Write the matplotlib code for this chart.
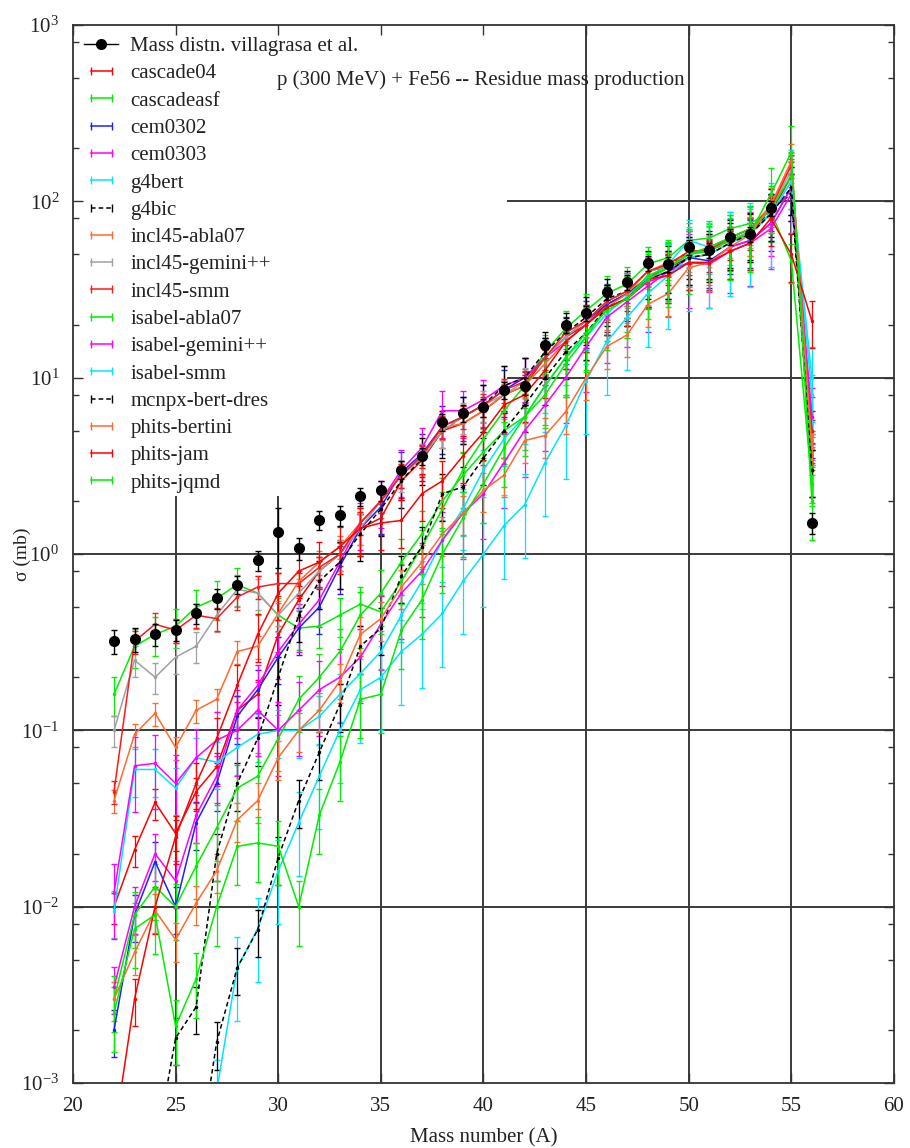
import matplotlib
matplotlib.use("Agg")
import matplotlib.pyplot as plt
from matplotlib.lines import Line2D
from matplotlib.legend_handler import HandlerLine2D
from matplotlib.ticker import FixedLocator, LogFormatterMathtext, NullFormatter, MultipleLocator

plt.rcParams['font.family'] = ['Liberation Serif', 'DejaVu Serif']
plt.rcParams['mathtext.fontset'] = 'stix'

# mass numbers
mass = [22, 23, 24, 25, 26, 27, 28, 29, 30, 31, 32, 33, 34, 35, 36, 37, 38, 39,
        40, 41, 42, 43, 44, 45, 46, 47, 48, 49, 50, 51, 52, 53, 54, 55, 56]

# experimental data (villagrasa et al.), mb
exp_mass = [22, 23, 24, 25, 26, 27, 28, 29, 30, 31, 32, 33, 34, 35, 36, 37, 38, 39,
            40, 41, 42, 43, 44, 45, 46, 47, 48, 49, 50, 51, 52, 53, 54, 56]
exp_val = [0.32, 0.33, 0.35, 0.37, 0.46, 0.56, 0.67, 0.92, 1.33, 1.08, 1.56, 1.66, 2.13, 2.3,
           3.0, 3.6, 5.6, 6.3, 6.8, 8.5, 9.0, 15.3, 19.9, 23.2, 30.6, 34.8, 44.7, 44.0,
           55.0, 53.0, 63.0, 65.0, 92.0, 1.5]
exp_err = [0.05, 0.05, 0.05, 0.05, 0.06, 0.07, 0.08, 0.12, 0.5, 0.15, 0.2, 0.22, 0.25, 0.3,
           0.35, 0.4, 0.6, 0.7, 0.8, 0.9, 1.0, 1.6, 2.0, 2.3, 3.0, 3.5, 4.5, 4.4,
           5.5, 5.3, 6.3, 6.5, 9.0, 0.2]

cascade04 = [0.01, 0.021, 0.039, 0.026, 0.045, 0.062, 0.13, 0.16, 0.35, 0.55, 0.8, 1.0, 1.4, 1.6,
             2.6, 3.4, 5.0, 5.5, 6.5, 8, 9, 13, 17, 20, 26, 30, 37, 42, 48, 50, 58, 66, 85, 140, 4]
cascadeasf = [0.16, 0.3, 0.35, 0.39, 0.5, 0.56, 0.67, 0.6, 0.45, 0.38, 0.39, 0.45, 0.52, 0.47,
              0.7, 1.1, 1.8, 3.0, 4.5, 6.5, 9, 14, 19, 24, 30, 34, 44, 48, 60, 62, 70, 75, 88, 46, 2.5]
cem0302 = [0.002, 0.009, 0.018, 0.01, 0.03, 0.05, 0.12, 0.17, 0.26, 0.38, 0.5, 0.85, 1.4, 1.85,
           2.9, 3.7, 5.3, 6, 7, 8.5, 10, 13, 17, 21, 26, 30, 36, 40, 48, 46, 55, 60, 75, 120, 5]
cem0303 = [0.0035, 0.01, 0.02, 0.014, 0.033, 0.055, 0.13, 0.18, 0.28, 0.4, 0.55, 0.9, 1.5, 2.0,
           3.0, 4.0, 6.5, 6.5, 7.5, 9, 10, 13, 16, 20, 25, 28, 35, 38, 45, 44, 52, 58, 70, 110, 6]
g4bert = [0.0095, 0.06, 0.06, 0.047, 0.07, 0.066, 0.08, 0.095, 0.1, 0.1, 0.12, 0.16, 0.21, 0.28,
          0.45, 0.7, 1.2, 1.8, 3, 4.5, 6, 9, 13, 17, 23, 29, 37, 44, 60, 55, 62, 70, 85, 130, 8]
g4bic = [0.0004, 0.0004, 0.0004, 0.0018, 0.0027, 0.02, 0.05, 0.09, 0.2, 0.45, 0.7, 0.9, 1.3, 1.8,
         2.6, 3.5, 5, 6, 7, 9, 10, 14, 18, 22, 28, 31, 40, 43, 52, 52, 60, 66, 90, 110, 3]
incl45_abla07 = [0.04, 0.095, 0.125, 0.08, 0.13, 0.15, 0.28, 0.3, 0.46, 0.7, 0.9, 1.1, 1.5, 2.0,
                 2.8, 3.6, 5.2, 5.5, 6.5, 8, 9, 12, 16, 20, 25, 30, 40, 45, 50, 55, 62, 70, 95, 165, 4]
incl45_gemini = [0.1, 0.25, 0.2, 0.26, 0.3, 0.45, 0.63, 0.6, 0.45, 0.6, 0.8, 1.0, 1.4, 2.0,
                 2.8, 3.5, 5, 6, 7, 8, 9.5, 13, 17, 21, 27, 31, 40, 43, 50, 53, 60, 68, 90, 150, 4]
incl45_smm = [0.045, 0.32, 0.4, 0.37, 0.45, 0.43, 0.57, 0.65, 0.68, 0.68, 0.84, 1.0, 1.5, 2.0,
              2.8, 3.6, 5.3, 6, 7, 8.5, 9.5, 13, 18, 21, 27, 31, 40, 44, 52, 53, 62, 70, 92, 160, 5]
isabel_abla07 = [0.003, 0.009, 0.013, 0.01, 0.017, 0.028, 0.047, 0.055, 0.09, 0.15, 0.2, 0.28, 0.45, 0.6,
                 0.9, 1.3, 2.0, 2.8, 3.8, 5, 6, 8, 12, 17, 25, 28, 38, 42, 50, 55, 62, 70, 90, 140, 3]
isabel_gemini = [0.012, 0.063, 0.065, 0.05, 0.07, 0.088, 0.1, 0.13, 0.1, 0.13, 0.17, 0.2, 0.26, 0.4,
                 0.6, 0.8, 1.2, 1.7, 2.2, 3.3, 5, 7, 10, 15, 22, 27, 33, 40, 45, 45, 55, 60, 75, 120, 6]
isabel_smm = [0.0004, 0.0004, 0.0004, 0.0004, 0.0004, 0.0009, 0.0045, 0.0075, 0.016, 0.03, 0.055, 0.1, 0.17, 0.2,
              0.28, 0.35, 0.46, 0.7, 1.0, 1.45, 1.9, 3.3, 5.3, 9.6, 16, 22, 30, 38, 48, 50, 58, 65, 85, 130, 10]
mcnpx = [0.0003, 0.0003, 0.0003, 0.0003, 0.0003, 0.0017, 0.0045, 0.0074, 0.019, 0.04, 0.075, 0.14, 0.3, 0.38,
         0.75, 1.1, 2.2, 2.4, 3.5, 5, 7, 10, 14, 18, 25, 28, 36, 40, 48, 50, 58, 65, 85, 120, 3]
phits_bertini = [0.003, 0.0055, 0.0095, 0.0065, 0.0105, 0.016, 0.031, 0.04, 0.07, 0.1, 0.13, 0.19, 0.35, 0.43,
                 0.65, 0.9, 1.3, 1.7, 2.3, 2.8, 4.4, 4.7, 6.4, 10, 15, 17.5, 26, 30, 42, 45, 55, 65, 95, 170, 4]
phits_jam = [0.0005, 0.003, 0.01, 0.025, 0.05, 0.09, 0.18, 0.35, 0.6, 0.8, 0.9, 1.1, 1.4, 1.5,
             1.55, 2.2, 2.6, 3.6, 4.9, 7, 8, 11, 16, 20, 25, 28, 36, 38, 45, 45, 52, 58, 80, 50, 21]
phits_jqmd = [0.0025, 0.0075, 0.009, 0.0021, 0.0039, 0.01, 0.022, 0.023, 0.022, 0.01, 0.033, 0.066, 0.15, 0.16,
              0.37, 0.55, 1.0, 1.6, 2.5, 4, 6, 9, 13, 18, 24, 28, 36, 42, 50, 52, 60, 66, 110, 190, 2]

# y axis decades and gnuplot-like minor tics
y_major = [1e-3, 1e-2, 1e-1, 1e0, 1e1, 1e2, 1e3]
y_minor = [m * d for d in [1e-3, 1e-2, 1e-1, 1e0, 1e1, 1e2] for m in (2, 5, 8)]

models = [
    ('cascade04', cascade04, '#ff0000', '-', 0.2),
    ('cascadeasf', cascadeasf, '#00ee00', '-', 0.25),
    ('cem0302', cem0302, '#2020ff', '-', 0.3),
    ('cem0303', cem0303, '#ff00ff', '-', 0.3),
    ('g4bert', g4bert, '#00e5ff', '-', 0.3),
    ('g4bic', g4bic, '#000000', (0, (3, 2)), 0.3),
    ('incl45-abla07', incl45_abla07, '#ff6a30', '-', 0.15),
    ('incl45-gemini++', incl45_gemini, '#a0a0a0', '-', 0.2),
    ('incl45-smm', incl45_smm, '#ff1a1a', '-', 0.15),
    ('isabel-abla07', isabel_abla07, '#00ee00', '-', 0.35),
    ('isabel-gemini++', isabel_gemini, '#ff00ff', '-', 0.45),
    ('isabel-smm', isabel_smm, '#00e5ff', '-', 0.5),
    ('mcnpx-bert-dres', mcnpx, '#000000', (0, (3, 2)), 0.3),
    ('phits-bertini', phits_bertini, '#ff6a30', '-', 0.25),
    ('phits-jam', phits_jam, '#ff0000', '-', 0.3),
    ('phits-jqmd', phits_jqmd, '#00ee00', '-', 0.4),
]

fig = plt.figure(figsize=(9.1, 11.48), dpi=100)
ax = fig.add_axes([0.0802, 0.0566, 0.9022, 0.9216])

# gnuplot style grid, partly hidden behind the key area
gkw = dict(color='#3a3a3a', lw=1.4, zorder=0)
for gx in [25, 30, 35, 40]:
    ax.axvline(gx, ymax=0.554, **gkw)
for gx in [45, 50, 55]:
    ax.axvline(gx, **gkw)
for gy in [1e-2, 1e-1, 1e0]:
    ax.axhline(gy, **gkw)
for gy in [1e1, 1e2]:
    ax.axhline(gy, xmin=0.53, **gkw)

ax.errorbar(exp_mass, exp_val, yerr=exp_err, fmt='o', color='black', ms=7,
            elinewidth=1.0, capsize=2.5, zorder=3)

# key samples drawn like gnuplot: short line with end ticks
handles = [Line2D([], [], color='black', lw=1.0, marker='o', ms=7)]
labels = ['Mass distn. villagrasa et al.']
hmap = {handles[0]: HandlerLine2D(numpoints=1)}

for name, vals, col, ls, rel in models:
    err = [v * rel for v in vals]
    eb = ax.errorbar(mass, vals, yerr=err, color=col, lw=1.1, ls=ls, marker='.', ms=3,
                     elinewidth=0.9, capsize=2, zorder=2)
    eb[-1][0].set_linestyle('-')
    handles.append(Line2D([], [], color=col, lw=1.1, ls=ls, marker='|', ms=6, mew=1.0))
    labels.append(name)

ax.set_yscale('log')
ax.set_xlim(20, 60)
ax.set_ylim(1e-3, 1e3)
ax.xaxis.set_major_locator(MultipleLocator(5))
ax.yaxis.set_major_locator(FixedLocator(y_major))
ax.yaxis.set_major_formatter(LogFormatterMathtext())
ax.yaxis.set_minor_locator(FixedLocator(y_minor))
ax.yaxis.set_minor_formatter(NullFormatter())
ax.tick_params(which='both', direction='in', top=True, right=True, colors='#333333',
               labelcolor='#222222', labelsize=15, width=1.0)
ax.tick_params(which='major', length=7, pad=10)
ax.tick_params(which='minor', length=4)
for s in ax.spines.values():
    s.set_color('#333333')
    s.set_linewidth(1.3)

ax.set_xlabel('Mass number (A)', fontsize=15, color='#222222', labelpad=9)
ax.set_ylabel('σ (mb)', fontsize=14, color='#222222', labelpad=-7)

ax.text(0.248, 0.948, 'p (300 MeV) + Fe56 -- Residue mass production', transform=ax.transAxes,
        fontsize=15, color='#222222', va='center', ha='left')

leg = ax.legend(handles, labels, handler_map=hmap, numpoints=2, loc='upper left',
                bbox_to_anchor=(0.0, 1.0), frameon=False, fontsize=15,
                handlelength=1.6, handletextpad=0.6, labelspacing=0.37, borderaxespad=0.15)
for t in leg.get_texts():
    t.set_color('#222222')

fig.savefig('out.png', dpi=100)
